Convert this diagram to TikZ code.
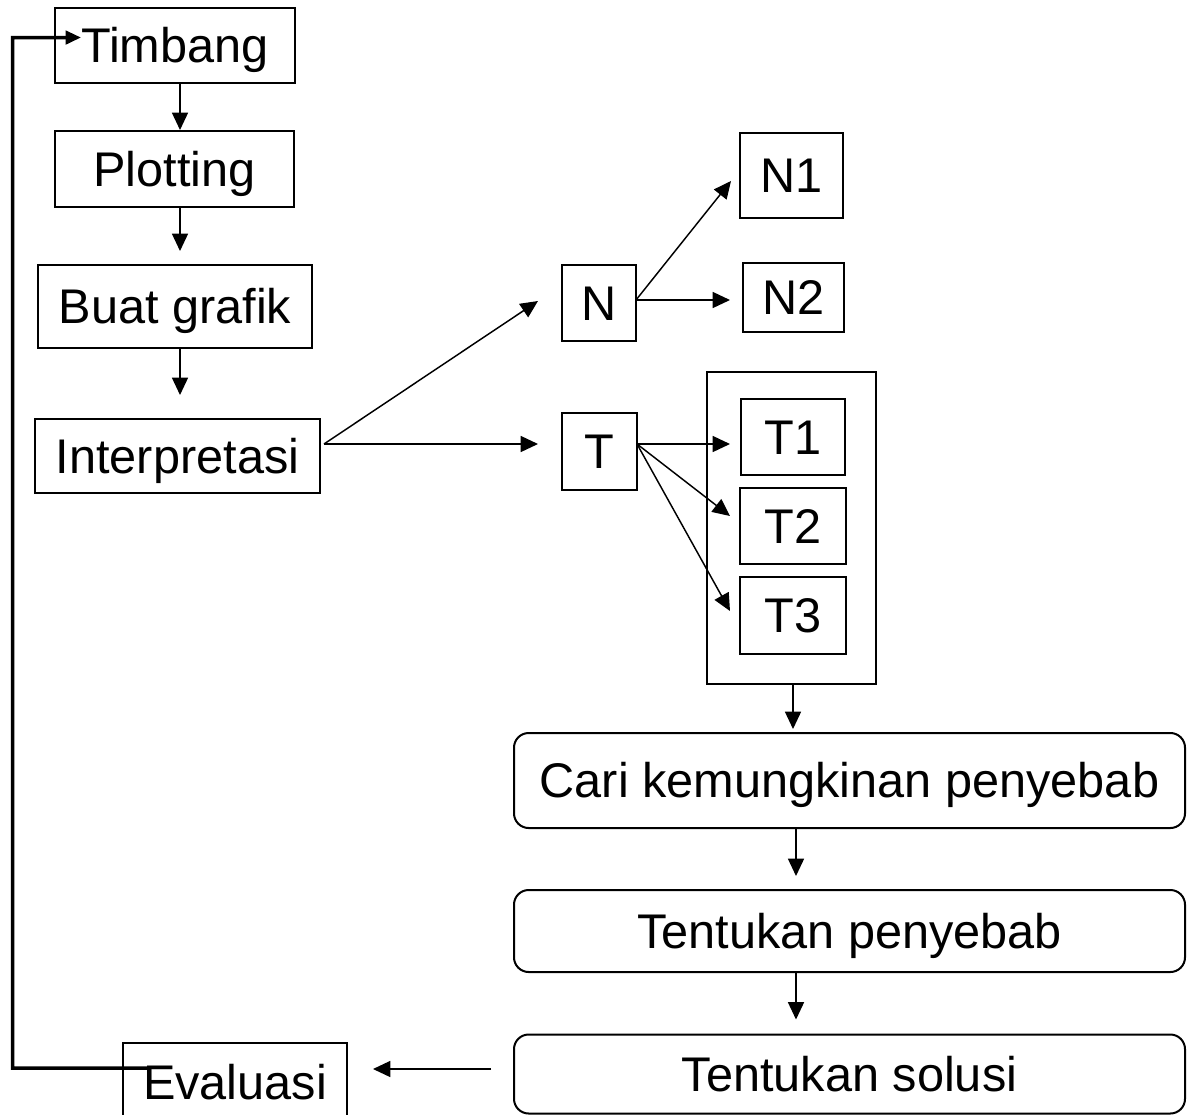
\documentclass[tikz,border=0pt]{standalone}
\usepackage{fontspec}
\setmainfont{Liberation Sans}
\usetikzlibrary{arrows.meta,calc}

\begin{document}
\begin{tikzpicture}[x=0.75pt,y=-0.75pt,
  lbl/.style={font=\fontsize{36.5}{40}\selectfont, inner sep=0pt, align=center,
              text height=26.1pt, text depth=0pt},
  box/.style={lbl, draw, line width=1.5pt, rectangle},
  rbox/.style={box, rounded corners=11pt},
  grp/.style={draw, line width=1.5pt, rectangle, inner sep=0pt},
  arr/.style={line width=1.1pt, -{Triangle[length=13pt,width=12pt]}},
  back/.style={line width=2.6pt, -{Triangle[length=11.5pt,width=10pt]}}]

  \clip (0,0) rectangle (1191,1114);
  \fill[white] (0,0) rectangle (1191,1114);

  % left column
  \node[box, minimum width=180pt, minimum height=56.25pt] (timbang) at (175,45.5) {Timbang};
  \node[box, minimum width=179.25pt, minimum height=57pt] (plotting) at (174.5,169) {Plotting};
  \node[box, minimum width=205.5pt, minimum height=62.25pt] (buat) at (175,306.5) {Buat grafik};
  \node[box, minimum width=213.75pt, minimum height=55.5pt] (interp) at (177.5,456) {Interpretasi};

  % N / T branches
  \node[box, minimum width=55.5pt, minimum height=57pt] (N) at (599,303) {N};
  \node[box, minimum width=56.25pt, minimum height=57.75pt] (T) at (599.5,451.5) {T};
  \node[box, minimum width=77.25pt, minimum height=63.75pt] (N1) at (791.5,175.5) {N1};
  \node[box, minimum width=75.75pt, minimum height=51.75pt] (N2) at (793.5,297.5) {N2};

  % T group
  \node[grp, minimum width=126.75pt, minimum height=234pt] (tgroup) at (791.5,528) {};
  \node[box, minimum width=78pt, minimum height=57pt] (T1) at (793,437) {T1};
  \node[box, minimum width=79.5pt, minimum height=57pt] (T2) at (793,526) {T2};
  \node[box, minimum width=79.5pt, minimum height=57.75pt] (T3) at (793,615.5) {T3};

  % right column
  \node[rbox, minimum width=503.25pt, minimum height=71.25pt] (cari) at (849.5,780.5) {Cari kemungkinan penyebab};
  \node[rbox, minimum width=503.25pt, minimum height=61.5pt] (penyebab) at (849.5,931) {Tentukan penyebab};
  \node[rbox, minimum width=503.25pt, minimum height=59.25pt] (solusi) at (849.5,1074) {Tentukan solusi};
  \node[box, minimum width=168pt, minimum height=58.5pt] (eval) at (235,1082) {Evaluasi};

  % fork points
  \coordinate (ifork) at ($(interp.east)+(3,-12)$);
  \coordinate (nfork) at ($(N.east)+(-1,-3)$);
  \coordinate (tfork) at ($(T.east)+(-1,-7.5)$);

  % vertical flow, left column
  \draw[arr] ($(timbang.south)+(5,0)$) -- ($(plotting.north)+(5.5,0)$);
  \draw[arr] ($(plotting.south)+(5.5,0)$) -- ($(buat.north)+(5,-13)$);
  \draw[arr] ($(buat.south)+(5,0)$) -- ($(interp.north)+(2.5,-23)$);

  % interpretation branches
  \draw[arr] (ifork) -- ($(N.west)+(-23,-2)$);
  \draw[arr] (ifork) -- ($(T.west)+(-23,-7.5)$);
  \draw[arr] (nfork) -- ($(N1.west)+(-8,5.5)$);
  \draw[arr] (nfork) -- ($(N2.west)+(-12,2.5)$);
  \draw[arr] (tfork) -- ($(T1.west)+(-10,7)$);
  \draw[arr] (tfork) -- ($(T2.west)+(-9,-10)$);
  \draw[arr] (tfork) -- ($(T3.west)+(-9,-4.5)$);

  % right column flow
  \draw[arr] ($(tgroup.south)+(1.5,0)$) -- ($(cari.north)+(-56.5,-3)$);
  \draw[arr] ($(cari.south)+(-53.5,0)$) -- ($(penyebab.north)+(-53.5,-13)$);
  \draw[arr] ($(penyebab.south)+(-53.5,0)$) -- ($(solusi.north)+(-53.5,-14)$);
  \draw[arr] ($(solusi.west)+(-22,-5)$) -- ($(eval.east)+(25,-13)$);

  % feedback loop back to the start
  \coordinate (fbstart) at ($(eval.center)+(-87,-14)$);
  \coordinate (fbend) at ($(timbang.west)+(27,-8)$);
  \draw[back] (fbstart) -- (12.7,1068) -- (12.7,37.7) -- (fbend);
\end{tikzpicture}
\end{document}
